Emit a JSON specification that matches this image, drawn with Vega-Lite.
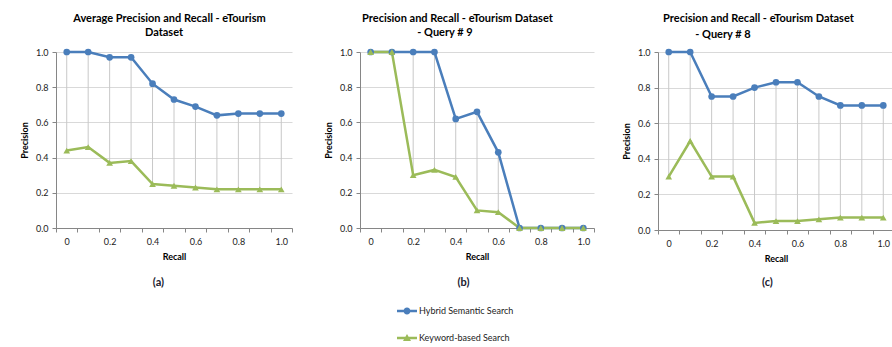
{
  "$schema": "https://vega.github.io/schema/vega-lite/v6.json",
  "background": "white",
  "padding": {"left": 20, "top": 13, "right": 4, "bottom": 0},
  "config": {
    "font": "Lato",
    "view": {"stroke": null},
    "concat": {"spacing": 31},
    "title": {"fontSize": 11, "fontWeight": "bold", "color": "#000000", "lineHeight": 15},
    "axis": {
      "domainColor": "#868686", "tickColor": "#868686", "gridColor": "#d9d9d9",
      "labelFontSize": 9, "labelColor": "#222222", "labelFont": "Lato",
      "titleFontSize": 9, "titleFontWeight": "bold", "titleColor": "#000000",
      "labelOverlap": false, "labelBound": false, "labelFlush": false
    }
  },
  "datasets": {
    "pr": [
      {"panel": "a", "recall": "0", "series": "Hybrid Semantic Search", "precision": 1.0},
      {"panel": "a", "recall": "0.1", "series": "Hybrid Semantic Search", "precision": 1.0},
      {"panel": "a", "recall": "0.2", "series": "Hybrid Semantic Search", "precision": 0.97},
      {"panel": "a", "recall": "0.3", "series": "Hybrid Semantic Search", "precision": 0.97},
      {"panel": "a", "recall": "0.4", "series": "Hybrid Semantic Search", "precision": 0.82},
      {"panel": "a", "recall": "0.5", "series": "Hybrid Semantic Search", "precision": 0.73},
      {"panel": "a", "recall": "0.6", "series": "Hybrid Semantic Search", "precision": 0.69},
      {"panel": "a", "recall": "0.7", "series": "Hybrid Semantic Search", "precision": 0.64},
      {"panel": "a", "recall": "0.8", "series": "Hybrid Semantic Search", "precision": 0.65},
      {"panel": "a", "recall": "0.9", "series": "Hybrid Semantic Search", "precision": 0.65},
      {"panel": "a", "recall": "1.0", "series": "Hybrid Semantic Search", "precision": 0.65},
      {"panel": "a", "recall": "0", "series": "Keyword-based Search", "precision": 0.44},
      {"panel": "a", "recall": "0.1", "series": "Keyword-based Search", "precision": 0.46},
      {"panel": "a", "recall": "0.2", "series": "Keyword-based Search", "precision": 0.37},
      {"panel": "a", "recall": "0.3", "series": "Keyword-based Search", "precision": 0.38},
      {"panel": "a", "recall": "0.4", "series": "Keyword-based Search", "precision": 0.25},
      {"panel": "a", "recall": "0.5", "series": "Keyword-based Search", "precision": 0.24},
      {"panel": "a", "recall": "0.6", "series": "Keyword-based Search", "precision": 0.23},
      {"panel": "a", "recall": "0.7", "series": "Keyword-based Search", "precision": 0.22},
      {"panel": "a", "recall": "0.8", "series": "Keyword-based Search", "precision": 0.22},
      {"panel": "a", "recall": "0.9", "series": "Keyword-based Search", "precision": 0.22},
      {"panel": "a", "recall": "1.0", "series": "Keyword-based Search", "precision": 0.22},
      {"panel": "b", "recall": "0", "series": "Hybrid Semantic Search", "precision": 1.0},
      {"panel": "b", "recall": "0.1", "series": "Hybrid Semantic Search", "precision": 1.0},
      {"panel": "b", "recall": "0.2", "series": "Hybrid Semantic Search", "precision": 1.0},
      {"panel": "b", "recall": "0.3", "series": "Hybrid Semantic Search", "precision": 1.0},
      {"panel": "b", "recall": "0.4", "series": "Hybrid Semantic Search", "precision": 0.62},
      {"panel": "b", "recall": "0.5", "series": "Hybrid Semantic Search", "precision": 0.66},
      {"panel": "b", "recall": "0.6", "series": "Hybrid Semantic Search", "precision": 0.43},
      {"panel": "b", "recall": "0.7", "series": "Hybrid Semantic Search", "precision": 0.0},
      {"panel": "b", "recall": "0.8", "series": "Hybrid Semantic Search", "precision": 0.0},
      {"panel": "b", "recall": "0.9", "series": "Hybrid Semantic Search", "precision": 0.0},
      {"panel": "b", "recall": "1.0", "series": "Hybrid Semantic Search", "precision": 0.0},
      {"panel": "b", "recall": "0", "series": "Keyword-based Search", "precision": 1.0},
      {"panel": "b", "recall": "0.1", "series": "Keyword-based Search", "precision": 1.0},
      {"panel": "b", "recall": "0.2", "series": "Keyword-based Search", "precision": 0.30},
      {"panel": "b", "recall": "0.3", "series": "Keyword-based Search", "precision": 0.33},
      {"panel": "b", "recall": "0.4", "series": "Keyword-based Search", "precision": 0.29},
      {"panel": "b", "recall": "0.5", "series": "Keyword-based Search", "precision": 0.10},
      {"panel": "b", "recall": "0.6", "series": "Keyword-based Search", "precision": 0.09},
      {"panel": "b", "recall": "0.7", "series": "Keyword-based Search", "precision": 0.0},
      {"panel": "b", "recall": "0.8", "series": "Keyword-based Search", "precision": 0.0},
      {"panel": "b", "recall": "0.9", "series": "Keyword-based Search", "precision": 0.0},
      {"panel": "b", "recall": "1.0", "series": "Keyword-based Search", "precision": 0.0},
      {"panel": "c", "recall": "0", "series": "Hybrid Semantic Search", "precision": 1.0},
      {"panel": "c", "recall": "0.1", "series": "Hybrid Semantic Search", "precision": 1.0},
      {"panel": "c", "recall": "0.2", "series": "Hybrid Semantic Search", "precision": 0.75},
      {"panel": "c", "recall": "0.3", "series": "Hybrid Semantic Search", "precision": 0.75},
      {"panel": "c", "recall": "0.4", "series": "Hybrid Semantic Search", "precision": 0.80},
      {"panel": "c", "recall": "0.5", "series": "Hybrid Semantic Search", "precision": 0.83},
      {"panel": "c", "recall": "0.6", "series": "Hybrid Semantic Search", "precision": 0.83},
      {"panel": "c", "recall": "0.7", "series": "Hybrid Semantic Search", "precision": 0.75},
      {"panel": "c", "recall": "0.8", "series": "Hybrid Semantic Search", "precision": 0.70},
      {"panel": "c", "recall": "0.9", "series": "Hybrid Semantic Search", "precision": 0.70},
      {"panel": "c", "recall": "1.0", "series": "Hybrid Semantic Search", "precision": 0.70},
      {"panel": "c", "recall": "0", "series": "Keyword-based Search", "precision": 0.30},
      {"panel": "c", "recall": "0.1", "series": "Keyword-based Search", "precision": 0.50},
      {"panel": "c", "recall": "0.2", "series": "Keyword-based Search", "precision": 0.30},
      {"panel": "c", "recall": "0.3", "series": "Keyword-based Search", "precision": 0.30},
      {"panel": "c", "recall": "0.4", "series": "Keyword-based Search", "precision": 0.04},
      {"panel": "c", "recall": "0.5", "series": "Keyword-based Search", "precision": 0.05},
      {"panel": "c", "recall": "0.6", "series": "Keyword-based Search", "precision": 0.05},
      {"panel": "c", "recall": "0.7", "series": "Keyword-based Search", "precision": 0.06},
      {"panel": "c", "recall": "0.8", "series": "Keyword-based Search", "precision": 0.07},
      {"panel": "c", "recall": "0.9", "series": "Keyword-based Search", "precision": 0.07},
      {"panel": "c", "recall": "1.0", "series": "Keyword-based Search", "precision": 0.07}
    ]
  },
  "resolve": {"scale": {"color": "shared", "shape": "shared"}, "legend": {"color": "shared", "shape": "shared"}},
  "spacing": 27,
  "hconcat": [
    {
      "spacing": 31,
      "resolve": {"scale": {"color": "shared", "shape": "shared"}, "legend": {"color": "shared", "shape": "shared"}},
      "hconcat": [
        {
          "title": {"text": "(a)", "orient": "bottom", "anchor": "middle", "frame": "bounds", "fontSize": 11, "color": "#1a1a2e", "offset": 16, "dx": 2},
          "vconcat": [
            {
              "title": {"text": "Average Precision and Recall - eTourism", "anchor": "middle", "frame": "bounds", "dx": 13, "offset": 3},
              "vconcat": [
                {
                  "width": 236, "height": 176,
                  "title": {"text": "Dataset", "anchor": "middle", "dx": -10, "offset": 9},
                  "data": {"name": "pr"},
                  "transform": [{"filter": "datum.panel == 'a'"}],
                  "layer": [
                    {
                      "transform": [{"aggregate": [{"op": "min", "field": "precision", "as": "lo"}, {"op": "max", "field": "precision", "as": "hi"}], "groupby": ["recall"]}],
                      "mark": {"type": "rule", "color": "#c8c8c8", "strokeWidth": 1},
                      "encoding": {
                        "x": {"field": "recall", "type": "ordinal", "bandPosition": 0.5,
                          "scale": {"type": "band", "domain": ["0", "0.1", "0.2", "0.3", "0.4", "0.5", "0.6", "0.7", "0.8", "0.9", "1.0"], "paddingInner": 0, "paddingOuter": 0},
                          "axis": {"title": "Recall", "grid": false, "titlePadding": 6, "labelPadding": 5, "tickSize": 4, "tickBand": "extent", "labelAngle": 0, "labelOverlap": false,
                            "labelExpr": "(datum.value == '0' || datum.value == '0.2' || datum.value == '0.4' || datum.value == '0.6' || datum.value == '0.8' || datum.value == '1.0') ? datum.value : ''"}},
                        "y": {"field": "lo", "type": "quantitative", "scale": {"domain": [0, 1], "nice": false},
                          "axis": {"title": "Precision", "titlePadding": 6, "labelPadding": 4, "tickSize": 4, "labelOverlap": false, "tickCount": 30,
                            "values": [0, 0.2, 0.4, 0.6, 0.8, 1], "format": ".1f"}},
                        "y2": {"field": "hi"}
                      }
                    },
                    {
                      "mark": {"type": "line", "strokeWidth": 2.5},
                      "encoding": {
                        "x": {"field": "recall", "type": "ordinal", "bandPosition": 0.5},
                        "y": {"field": "precision", "type": "quantitative"},
                        "color": {"field": "series", "type": "nominal", "scale": {"domain": ["Hybrid Semantic Search", "Keyword-based Search"], "range": ["#4A7EBB", "#9BBB59"]}}
                      }
                    },
                    {
                      "mark": {"type": "point", "filled": true, "opacity": 1, "size": 45},
                      "encoding": {
                        "x": {"field": "recall", "type": "ordinal", "bandPosition": 0.5},
                        "y": {"field": "precision", "type": "quantitative"},
                        "color": {"field": "series", "type": "nominal"},
                        "shape": {"condition": {"test": "datum.series === 'Hybrid Semantic Search'", "value": "circle"}, "value": "triangle-up"}
                      }
                    },
                    {
                      "transform": [{"filter": "false"}],
                      "mark": {"type": "point", "filled": true, "opacity": 1},
                      "encoding": {
                        "x": {"field": "recall", "type": "ordinal", "bandPosition": 0.5},
                        "y": {"field": "precision", "type": "quantitative"},
                        "color": {"field": "series", "type": "nominal",
                          "legend": {"orient": "none", "legendX": 341, "legendY": 249, "direction": "vertical", "title": null,
                            "labelFontSize": 9, "labelColor": "#222222", "labelOffset": 2, "rowPadding": 12, "symbolSize": 400, "symbolStrokeWidth": 0, "symbolOpacity": 1,
                            "encode": {"symbols": {"update": {
                              "fill": {"signal": "datum.value === 'Hybrid Semantic Search' ? '#4A7EBB' : '#9BBB59'"},
                              "strokeWidth": {"value": 0},
                              "opacity": {"value": 1}
                            }}}}},
                        "shape": {"field": "series", "type": "nominal",
                          "scale": {"domain": ["Hybrid Semantic Search", "Keyword-based Search"], "range": ["M-1,-0.12L1,-0.12L1,0.12L-1,0.12Z M-0.35,0A0.35,0.35 0 1,1 0.35,0A0.35,0.35 0 1,1 -0.35,0Z", "M-1,-0.12L1,-0.12L1,0.12L-1,0.12Z M-0.4,0.3L0,-0.4L0.4,0.3Z"]},
                          "legend": {"orient": "none", "legendX": 341, "legendY": 249, "direction": "vertical", "title": null,
                            "labelFontSize": 9, "labelColor": "#222222", "labelOffset": 2, "rowPadding": 12, "symbolSize": 400, "symbolStrokeWidth": 0, "symbolOpacity": 1}}
                      }
                    }
                  ]
                }
              ]
            }
          ]
        },
        {
          "title": {"text": "(b)", "orient": "bottom", "anchor": "middle", "frame": "bounds", "fontSize": 11, "color": "#1a1a2e", "offset": 16, "dx": 4},
          "vconcat": [
            {
              "title": {"text": "Precision and Recall - eTourism Dataset", "anchor": "middle", "frame": "bounds", "dx": -2, "offset": 3},
              "vconcat": [
                {
                  "width": 234, "height": 176,
                  "title": {"text": "- Query # 9", "anchor": "middle", "dx": -32, "offset": 9},
                  "data": {"name": "pr"},
                  "transform": [{"filter": "datum.panel == 'b'"}],
                  "layer": [
                    {
                      "transform": [{"aggregate": [{"op": "min", "field": "precision", "as": "lo"}, {"op": "max", "field": "precision", "as": "hi"}], "groupby": ["recall"]}],
                      "mark": {"type": "rule", "color": "#c8c8c8", "strokeWidth": 1},
                      "encoding": {
                        "x": {"field": "recall", "type": "ordinal", "bandPosition": 0.5,
                          "scale": {"type": "band", "domain": ["0", "0.1", "0.2", "0.3", "0.4", "0.5", "0.6", "0.7", "0.8", "0.9", "1.0"], "paddingInner": 0, "paddingOuter": 0},
                          "axis": {"title": "Recall", "grid": false, "titlePadding": 6, "labelPadding": 5, "tickSize": 4, "tickBand": "extent", "labelAngle": 0, "labelOverlap": false,
                            "labelExpr": "(datum.value == '0' || datum.value == '0.2' || datum.value == '0.4' || datum.value == '0.6' || datum.value == '0.8' || datum.value == '1.0') ? datum.value : ''"}},
                        "y": {"field": "lo", "type": "quantitative", "scale": {"domain": [0, 1], "nice": false},
                          "axis": {"title": "Precision", "titlePadding": 6, "labelPadding": 4, "tickSize": 4, "labelOverlap": false, "tickCount": 30,
                            "values": [0, 0.2, 0.4, 0.6, 0.8, 1], "format": ".1f"}},
                        "y2": {"field": "hi"}
                      }
                    },
                    {
                      "mark": {"type": "line", "strokeWidth": 2.5},
                      "encoding": {
                        "x": {"field": "recall", "type": "ordinal", "bandPosition": 0.5},
                        "y": {"field": "precision", "type": "quantitative"},
                        "color": {"field": "series", "type": "nominal"}
                      }
                    },
                    {
                      "mark": {"type": "point", "filled": true, "opacity": 1, "size": 45},
                      "encoding": {
                        "x": {"field": "recall", "type": "ordinal", "bandPosition": 0.5},
                        "y": {"field": "precision", "type": "quantitative"},
                        "color": {"field": "series", "type": "nominal"},
                        "shape": {"condition": {"test": "datum.series === 'Hybrid Semantic Search'", "value": "circle"}, "value": "triangle-up"}
                      }
                    }
                  ]
                }
              ]
            }
          ]
        }
      ]
    },
    {
      "title": {"text": "(c)", "orient": "bottom", "anchor": "middle", "frame": "bounds", "fontSize": 11, "color": "#1a1a2e", "offset": 14, "dx": 9},
      "vconcat": [
        {
          "title": {"text": "Precision and Recall - eTourism Dataset", "anchor": "middle", "frame": "bounds", "dx": 0, "offset": 5},
          "vconcat": [
            {
              "width": 236, "height": 178,
              "title": {"text": "- Query # 8", "anchor": "middle", "dx": -53, "offset": 7},
              "data": {"name": "pr"},
              "transform": [{"filter": "datum.panel == 'c'"}],
              "layer": [
                {
                  "transform": [{"aggregate": [{"op": "min", "field": "precision", "as": "lo"}, {"op": "max", "field": "precision", "as": "hi"}], "groupby": ["recall"]}],
                  "mark": {"type": "rule", "color": "#c8c8c8", "strokeWidth": 1},
                  "encoding": {
                    "x": {"field": "recall", "type": "ordinal", "bandPosition": 0.5,
                      "scale": {"type": "band", "domain": ["0", "0.1", "0.2", "0.3", "0.4", "0.5", "0.6", "0.7", "0.8", "0.9", "1.0"], "paddingInner": 0, "paddingOuter": 0},
                      "axis": {"title": "Recall", "grid": false, "titlePadding": 6, "labelPadding": 5, "tickSize": 4, "tickBand": "extent", "labelAngle": 0, "labelOverlap": false,
                        "labelExpr": "(datum.value == '0' || datum.value == '0.2' || datum.value == '0.4' || datum.value == '0.6' || datum.value == '0.8' || datum.value == '1.0') ? datum.value : ''"}},
                    "y": {"field": "lo", "type": "quantitative", "scale": {"domain": [0, 1], "nice": false},
                      "axis": {"title": "Precision", "titlePadding": 6, "labelPadding": 4, "tickSize": 4, "labelOverlap": false, "tickCount": 30,
                        "values": [0, 0.2, 0.4, 0.6, 0.8, 1], "format": ".1f"}},
                    "y2": {"field": "hi"}
                  }
                },
                {
                  "mark": {"type": "line", "strokeWidth": 2.5},
                  "encoding": {
                    "x": {"field": "recall", "type": "ordinal", "bandPosition": 0.5},
                    "y": {"field": "precision", "type": "quantitative"},
                    "color": {"field": "series", "type": "nominal"}
                  }
                },
                {
                  "mark": {"type": "point", "filled": true, "opacity": 1, "size": 45},
                  "encoding": {
                    "x": {"field": "recall", "type": "ordinal", "bandPosition": 0.5},
                    "y": {"field": "precision", "type": "quantitative"},
                    "color": {"field": "series", "type": "nominal"},
                    "shape": {"condition": {"test": "datum.series === 'Hybrid Semantic Search'", "value": "circle"}, "value": "triangle-up"}
                  }
                }
              ]
            }
          ]
        }
      ]
    }
  ]
}
